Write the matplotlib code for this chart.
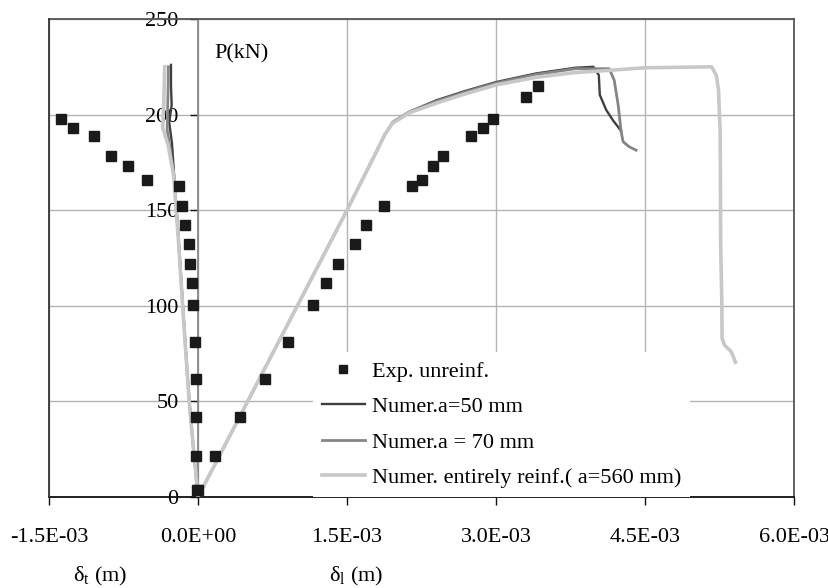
import matplotlib
matplotlib.use("Agg")
import matplotlib.pyplot as plt
from matplotlib.lines import Line2D

plt.rcParams['font.family'] = ['Liberation Serif', 'DejaVu Serif']
plt.rcParams['mathtext.fontset'] = 'custom'
plt.rcParams['mathtext.rm'] = 'Liberation Serif'
plt.rcParams['mathtext.it'] = 'Liberation Serif:italic'

# ---------------- data ----------------
# experimental (unreinforced): load P (kN)
exp_load_t = [3.7, 21.3, 42.0, 61.6, 81.1, 100.6, 112.0, 121.9, 132.5, 142.4,
              152.1, 162.8, 166.0, 173.3, 178.2, 188.8, 192.8, 197.7]
exp_dt = [-0.012e-3, -0.018e-3, -0.018e-3, -0.018e-3, -0.030e-3, -0.050e-3,
          -0.063e-3, -0.077e-3, -0.093e-3, -0.126e-3, -0.157e-3, -0.188e-3,
          -0.518e-3, -0.707e-3, -0.878e-3, -1.049e-3, -1.256e-3, -1.384e-3]
exp_load_l = [3.7, 21.3, 42.0, 61.6, 81.1, 100.6, 112.0, 121.9, 132.5, 142.4,
              152.1, 162.8, 166.0, 173.3, 178.2, 188.8, 192.8, 197.7, 209.0, 214.8]
exp_dl = [0.0, 0.173e-3, 0.421e-3, 0.676e-3, 0.911e-3, 1.160e-3, 1.287e-3,
          1.411e-3, 1.585e-3, 1.696e-3, 1.871e-3, 2.152e-3, 2.260e-3, 2.368e-3,
          2.465e-3, 2.746e-3, 2.871e-3, 2.968e-3, 3.297e-3, 3.421e-3]

# numerical a = 50 mm
n50_dt = [0, -0.045e-3, -0.085e-3, -0.120e-3, -0.153e-3, -0.195e-3, -0.240e-3,
          -0.262e-3, -0.290e-3, -0.265e-3, -0.272e-3, -0.272e-3]
n50_Pt = [0, 25, 49, 75, 101, 135, 168, 185, 196, 205, 215, 226]
n50_dl = [0, 0.5e-3, 1.0e-3, 1.5e-3, 1.80e-3, 1.88e-3, 1.96e-3, 2.13e-3, 2.40e-3,
          2.70e-3, 3.00e-3, 3.40e-3, 3.80e-3, 3.98e-3, 4.035e-3, 4.045e-3,
          4.11e-3, 4.175e-3, 4.24e-3, 4.26e-3]
n50_Pl = [0, 50, 100, 150, 181, 189.5, 196, 201.5, 207.5, 212.5, 217, 221.5,
          224.5, 225, 220.7, 210.3, 202.4, 197.2, 192.8, 191.5]

# numerical a = 70 mm
n70_dt = [0, -0.045e-3, -0.087e-3, -0.122e-3, -0.155e-3, -0.197e-3, -0.242e-3,
          -0.280e-3, -0.310e-3, -0.305e-3, -0.300e-3, -0.298e-3]
n70_Pt = [0, 25, 49, 75, 101, 135, 168, 182, 192, 205, 215, 225]
n70_dl = [0, 0.5e-3, 1.0e-3, 1.5e-3, 1.80e-3, 1.88e-3, 1.96e-3, 2.13e-3, 2.40e-3,
          2.70e-3, 3.00e-3, 3.40e-3, 3.80e-3, 4.14e-3, 4.19e-3, 4.23e-3,
          4.26e-3, 4.28e-3, 4.34e-3, 4.41e-3]
n70_Pl = [0, 50, 100, 150, 181, 189.5, 196, 201.5, 207, 212, 216.5, 221, 224,
          224, 218, 205, 191, 185.8, 183.2, 181.4]

# numerical entirely reinforced a = 560 mm
n560_dt = [0, -0.045e-3, -0.087e-3, -0.122e-3, -0.156e-3, -0.198e-3, -0.245e-3,
           -0.300e-3, -0.355e-3, -0.345e-3, -0.340e-3, -0.335e-3]
n560_Pt = [0, 25, 49, 75, 101, 135, 168, 184, 193, 205, 215, 225]
n560_dl = [0, 0.5e-3, 1.0e-3, 1.5e-3, 1.80e-3, 1.88e-3, 1.96e-3, 2.13e-3, 2.40e-3,
           2.70e-3, 3.00e-3, 3.40e-3, 3.80e-3, 4.10e-3, 4.50e-3, 5.17e-3,
           5.217e-3, 5.240e-3, 5.257e-3, 5.262e-3, 5.273e-3, 5.276e-3,
           5.30e-3, 5.368e-3, 5.411e-3]
n560_Pl = [0, 50, 100, 150, 181, 189.5, 195.5, 201, 206, 211, 215.5, 219.5,
           222, 223, 224.5, 225, 220.7, 212.9, 190.4, 131, 103, 83, 79.5, 76, 70.5]

xticks = [-1.5e-3, 0.0, 1.5e-3, 3.0e-3, 4.5e-3, 6.0e-3]
xticklabels = ['-1.5E-03', '0.0E+00', '1.5E-03', '3.0E-03', '4.5E-03', '6.0E-03']
yticks = [0, 50, 100, 150, 200, 250]
yticklabels = ['0', '50', '100', '150', '200', '250']

labels = ['Exp. unreinf.', 'Numer.a=50 mm', 'Numer.a = 70 mm',
          'Numer. entirely reinf.( a=560 mm)']

# ---------------- figure ----------------
fig = plt.figure(figsize=(8.29, 5.88), dpi=100)
ax = fig.add_axes([49/829, 91/588, 745/829, 478/588])
ax.set_xlim(-1.5e-3, 6.0e-3)
ax.set_ylim(0, 250)

c50, c70, c560 = '#404040', '#858585', '#c8c8c8'
ax.plot(n50_dt, n50_Pt, color=c50, lw=1.7, zorder=3)
ax.plot(n50_dl, n50_Pl, color=c50, lw=1.7, zorder=3)
ax.plot(n70_dt, n70_Pt, color=c70, lw=2.0, zorder=3.1)
ax.plot(n70_dl, n70_Pl, color=c70, lw=2.0, zorder=3.1)
ax.plot(n560_dt, n560_Pt, color=c560, lw=2.6, zorder=3.2)
ax.plot(n560_dl, n560_Pl, color=c560, lw=2.6, zorder=3.2)
ax.plot(exp_dt, exp_load_t, 's', color='#1a1a1a', ms=6.5, zorder=4)
ax.plot(exp_dl, exp_load_l, 's', color='#1a1a1a', ms=6.5, zorder=4)

ax.set_xticks(xticks)
ax.set_xticklabels(xticklabels)
ax.set_yticks(yticks)
ax.set_yticklabels(yticklabels)
ax.grid(True, color='#b4b4b4', lw=1.0, zorder=0)
ax.set_axisbelow(True)

ax.spines['left'].set_position(('data', 0))
ax.spines['left'].set_color('#888888')
ax.spines['left'].set_linewidth(1.3)
ax.spines['bottom'].set_color('#111111')
ax.spines['bottom'].set_linewidth(1.3)
for s in ('top', 'right'):
    ax.spines[s].set_color('#555555')
    ax.spines[s].set_linewidth(1.3)
ax.plot([0, 0], [0, 1], transform=ax.transAxes, color='#333333', lw=1.3,
        clip_on=False, zorder=2.6)

ax.tick_params(axis='x', direction='out', length=6, width=1, color='#111111',
               pad=16, labelsize=16)
ax.tick_params(axis='y', direction='out', length=6, width=1, color='#111111',
               pad=8, labelsize=16)

ax.text(0.166e-3, 229.6, 'P(kN)', fontsize=16, va='baseline', ha='left')

fig.text(73/829, 1 - 581/588, r'δ$_\mathrm{t}$ (m)', fontsize=16,
         va='baseline', ha='left')
fig.text(329/829, 1 - 581/588, r'δ$_\mathrm{l}$ (m)', fontsize=16,
         va='baseline', ha='left')

handles = [
    Line2D([], [], ls='none', marker='s', color='#1a1a1a', ms=6),
    Line2D([], [], color=c50, lw=1.7),
    Line2D([], [], color=c70, lw=2.0),
    Line2D([], [], color=c560, lw=2.6),
]
leg = ax.legend(handles, labels, loc='lower left',
                bbox_to_anchor=((312.8 - 49) / 745, 0.0), fontsize=16,
                frameon=True, fancybox=False, framealpha=1.0,
                facecolor='white', edgecolor='none', borderpad=0.4,
                labelspacing=0.67, handlelength=1.95, handletextpad=0.3,
                borderaxespad=0.0)
leg.set_zorder(5)

fig.savefig('out.png', dpi=100)
